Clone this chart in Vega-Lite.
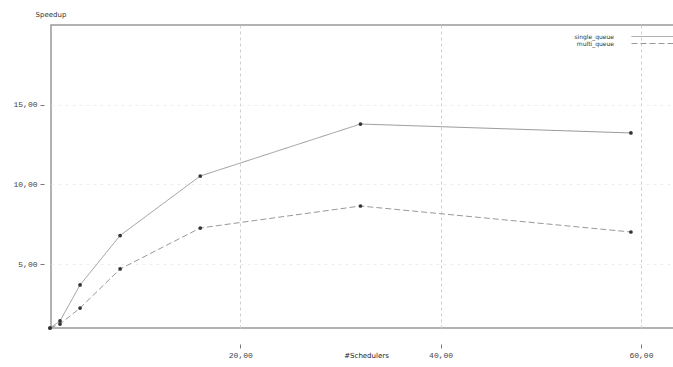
{
  "$schema": "https://vega.github.io/schema/vega-lite/v6.json",
  "width": 630,
  "height": 303,
  "autosize": "none",
  "padding": {"left": 51, "top": 25, "right": 0, "bottom": 39},
  "background": "white",
  "config": {
    "locale": {"number": {"decimal": ",", "thousands": ".", "grouping": [3], "currency": ["", ""]}},
    "view": {"stroke": "#999999", "strokeWidth": 1.5},
    "font": "DejaVu Sans"
  },
  "data": {
    "values": [
      {"schedulers": 1, "speedup": 1, "series": "single_queue"},
      {"schedulers": 2, "speedup": 1.44, "series": "single_queue"},
      {"schedulers": 4, "speedup": 3.7, "series": "single_queue"},
      {"schedulers": 8, "speedup": 6.8, "series": "single_queue"},
      {"schedulers": 16, "speedup": 10.53, "series": "single_queue"},
      {"schedulers": 32, "speedup": 13.79, "series": "single_queue"},
      {"schedulers": 59, "speedup": 13.23, "series": "single_queue"},
      {"schedulers": 1, "speedup": 1, "series": "multi_queue"},
      {"schedulers": 2, "speedup": 1.25, "series": "multi_queue"},
      {"schedulers": 4, "speedup": 2.25, "series": "multi_queue"},
      {"schedulers": 8, "speedup": 4.7, "series": "multi_queue"},
      {"schedulers": 16, "speedup": 7.27, "series": "multi_queue"},
      {"schedulers": 32, "speedup": 8.65, "series": "multi_queue"},
      {"schedulers": 59, "speedup": 7.02, "series": "multi_queue"}
    ]
  },
  "encoding": {
    "x": {
      "field": "schedulers", "type": "quantitative",
      "scale": {"domain": [1.1, 64], "nice": false, "zero": false},
      "axis": {
        "title": "#Schedulers", "values": [20, 40, 60], "format": ".2f",
        "domain": false, "offset": 16, "tickSize": 4, "tickColor": "#777",
        "labelFont": "Liberation Mono", "labelFontSize": 8, "labelColor": "#444", "labelPadding": 3,
        "titleFont": "DejaVu Sans", "titleFontSize": 7, "titleFontWeight": "normal", "titleColor": "#222",
        "titleY": 11, "titleBaseline": "middle",
        "grid": true, "gridDash": [3, 3], "gridColor": "#cfcfcf", "gridOpacity": 1
      }
    },
    "y": {
      "field": "speedup", "type": "quantitative",
      "scale": {"domain": [1, 20], "nice": false, "zero": false},
      "axis": {
        "title": "Speedup", "values": [5, 10, 15], "format": ".2f",
        "domain": false, "offset": 7, "tickSize": 4, "tickColor": "#777",
        "labelFont": "Liberation Mono", "labelFontSize": 8, "labelColor": "#444", "labelPadding": 3,
        "titleFont": "DejaVu Sans", "titleFontSize": 7, "titleFontWeight": "normal", "titleColor": "#333",
        "titleAngle": 0, "titleAlign": "left", "titleBaseline": "middle", "titleX": -9, "titleY": -11,
        "grid": true, "gridDash": [3, 4], "gridColor": "#eeeeee", "gridOpacity": 1
      }
    }
  },
  "layer": [
    {
      "mark": {"type": "line", "strokeWidth": 1, "color": "#999999"},
      "encoding": {
        "strokeDash": {
          "field": "series", "type": "nominal",
          "scale": {"domain": ["single_queue", "multi_queue"], "range": [[1, 0], [6, 3]]},
          "legend": {
            "title": null, "orient": "none", "legendX": 598, "legendY": 8,
            "symbolType": "M-7,0H7", "symbolSize": 36, "symbolStrokeColor": "#999999", "symbolStrokeWidth": 1,
            "symbolFillColor": "transparent",
            "symbolDash": [1, 0],
            "labelAlign": "right", "labelOffset": -42, "labelFontSize": 6, "labelColor": "#333333",
            "labelFont": "DejaVu Sans", "rowPadding": 0,
            "encode": {"symbols": {"update": {"strokeDash": {"value": [1, 0]}}}}
          }
        }
      }
    },
    {
      "mark": {"type": "point", "filled": true, "size": 14, "color": "#333333", "opacity": 1},
      "encoding": {"detail": {"field": "series"}}
    }
  ]
}
